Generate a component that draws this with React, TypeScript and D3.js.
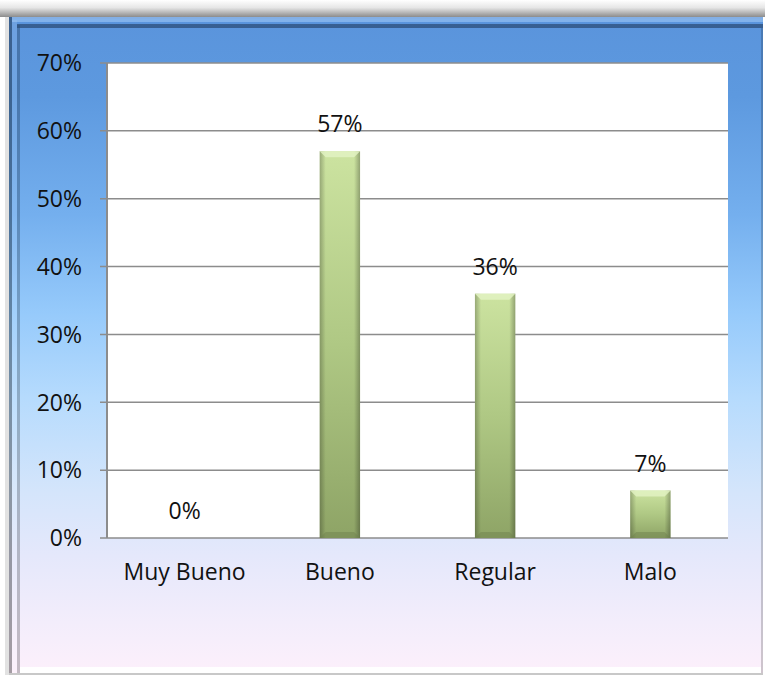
import React from "react";
import * as d3 from "d3";

const categories = ["Muy Bueno", "Bueno", "Regular", "Malo"];
const values = [0, 0.57, 0.36, 0.07];
const valueLabels = ["0%", "57%", "36%", "7%"];
const yTicks = [0, 0.1, 0.2, 0.3, 0.4, 0.5, 0.6, 0.7];

const W = 765;
const H = 675;
const plot = { left: 107, right: 728, top: 63, bottom: 538 };
const FONT = "'Open Sans', 'Liberation Sans', sans-serif";
const FS = 23;

export default function App() {
  const x = d3
    .scaleBand<string>()
    .domain(categories)
    .range([plot.left, plot.right])
    .paddingInner(0.74)
    .paddingOuter(0.37);
  const y = d3.scaleLinear().domain([0, 0.7]).range([plot.bottom, plot.top]);
  const fmt = d3.format(".0%");
  const bw = x.bandwidth();

  return (
    <svg
      width={W}
      height={H}
      style={{ position: "absolute", left: 0, top: 0 }}
      xmlns="http://www.w3.org/2000/svg"
    >
      <defs>
        <linearGradient id="shadow" x1="0" y1="0" x2="0" y2="1">
          <stop offset="0" stopColor="#ffffff" />
          <stop offset="0.45" stopColor="#e6e6e6" />
          <stop offset="1" stopColor="#8c8c8c" />
        </linearGradient>
        <linearGradient id="bg" x1="0" y1="17" x2="0" y2="675" gradientUnits="userSpaceOnUse">
          <stop offset="0" stopColor="#5a94dc" />
          <stop offset="0.12" stopColor="#5d99df" />
          <stop offset="0.3" stopColor="#74afee" />
          <stop offset="0.45" stopColor="#96cafb" />
          <stop offset="0.58" stopColor="#b6dbfd" />
          <stop offset="0.72" stopColor="#d4e5fb" />
          <stop offset="0.82" stopColor="#e5e8fb" />
          <stop offset="0.92" stopColor="#f3edfb" />
          <stop offset="1" stopColor="#fdf0fb" />
        </linearGradient>
        <linearGradient id="barV" x1="0" y1="0" x2="0" y2="1">
          <stop offset="0" stopColor="#cce3a0" />
          <stop offset="0.5" stopColor="#afc884" />
          <stop offset="1" stopColor="#8ea466" />
        </linearGradient>
        <linearGradient id="barH" x1="0" y1="0" x2="1" y2="0">
          <stop offset="0" stopColor="#000" stopOpacity="0.25" />
          <stop offset="0.15" stopColor="#000" stopOpacity="0.0" />
          <stop offset="0.85" stopColor="#000" stopOpacity="0.0" />
          <stop offset="1" stopColor="#000" stopOpacity="0.28" />
        </linearGradient>
      </defs>

      {/* top shadow */}
      <rect x={0} y={0} width={W} height={17} fill="url(#shadow)" />
      <rect x={0} y={17} width={9} height={H - 17} fill="#ffffff" />
      <rect x={5} y={17} width={4} height={H - 17} fill="#cfcfcf" opacity={0.6} />

      {/* outer frame background */}
      <rect x={9} y={17} width={754} height={H - 17} fill="url(#bg)" />
      {/* left bevel */}
      <rect x={9} y={17} width={3} height={H - 17} fill="#000" opacity={0.35} />
      <rect x={12} y={20} width={5} height={H - 20} fill="#fff" opacity={0.12} />
      <rect x={17} y={25} width={3} height={H - 25} fill="#000" opacity={0.22} />
      {/* top bevel */}
      <rect x={12} y={17} width={751} height={2} fill="#fff" opacity={0.25} />
      <rect x={12} y={19} width={751} height={3} fill="#9cc6f3" opacity={0.6} />
      <rect x={17} y={24} width={746} height={4} fill="#2c4d78" opacity={0.75} />
      {/* right edge */}
      <rect x={761} y={28} width={2} height={H - 28} fill="#000" opacity={0.18} />
      {/* bottom strip */}
      <rect x={20} y={667} width={741} height={6} fill="#ffffff" />
      <rect x={9} y={673} width={754} height={2} fill="#c8c8c8" />

      {/* plot area */}
      <rect
        x={plot.left}
        y={plot.top}
        width={plot.right - plot.left}
        height={plot.bottom - plot.top}
        fill="#ffffff"
      />

      {/* gridlines and ticks */}
      {yTicks.map((t) => (
        <g key={t}>
          <line
            x1={plot.left - 7}
            x2={plot.right}
            y1={y(t)}
            y2={y(t)}
            stroke="#8c8c8c"
            strokeWidth={1.5}
          />
          <text
            x={82}
            y={y(t)}
            dy="0.36em"
            textAnchor="end"
            fontFamily={FONT}
            fontSize={FS}
            fill="#111"
          >
            {fmt(t)}
          </text>
        </g>
      ))}
      <line
        x1={plot.left}
        x2={plot.left}
        y1={plot.top}
        y2={plot.bottom}
        stroke="#8c8c8c"
        strokeWidth={2}
      />

      {/* bars */}
      {categories.map((c, i) => {
        const bx = x(c)!;
        const by = y(values[i]);
        const bh = plot.bottom - by;
        if (bh <= 0) return null;
        const bev = Math.min(6, bh / 3);
        return (
          <g key={c}>
            <rect x={bx} y={by} width={bw} height={bh} fill="url(#barV)" />
            <rect x={bx} y={by} width={bw} height={bh} fill="url(#barH)" />
            <polygon
              points={`${bx},${by} ${bx + bw},${by} ${bx + bw - bev},${by + bev} ${bx + bev},${by + bev}`}
              fill="#e2f2c2"
              opacity={0.85}
            />
            <polygon
              points={`${bx},${by + bh} ${bx + bw},${by + bh} ${bx + bw - bev},${by + bh - bev} ${bx + bev},${by + bh - bev}`}
              fill="#6f824e"
              opacity={0.5}
            />
          </g>
        );
      })}

      {/* value labels */}
      {categories.map((c, i) => (
        <text
          key={c}
          x={x(c)! + bw / 2}
          y={y(values[i]) - 19}
          textAnchor="middle"
          fontFamily={FONT}
          fontSize={FS}
          fill="#111"
        >
          {valueLabels[i]}
        </text>
      ))}

      {/* category labels */}
      {categories.map((c) => (
        <text
          key={c}
          x={x(c)! + bw / 2}
          y={580}
          textAnchor="middle"
          fontFamily={FONT}
          fontSize={FS}
          fill="#111"
        >
          {c}
        </text>
      ))}
    </svg>
  );
}
